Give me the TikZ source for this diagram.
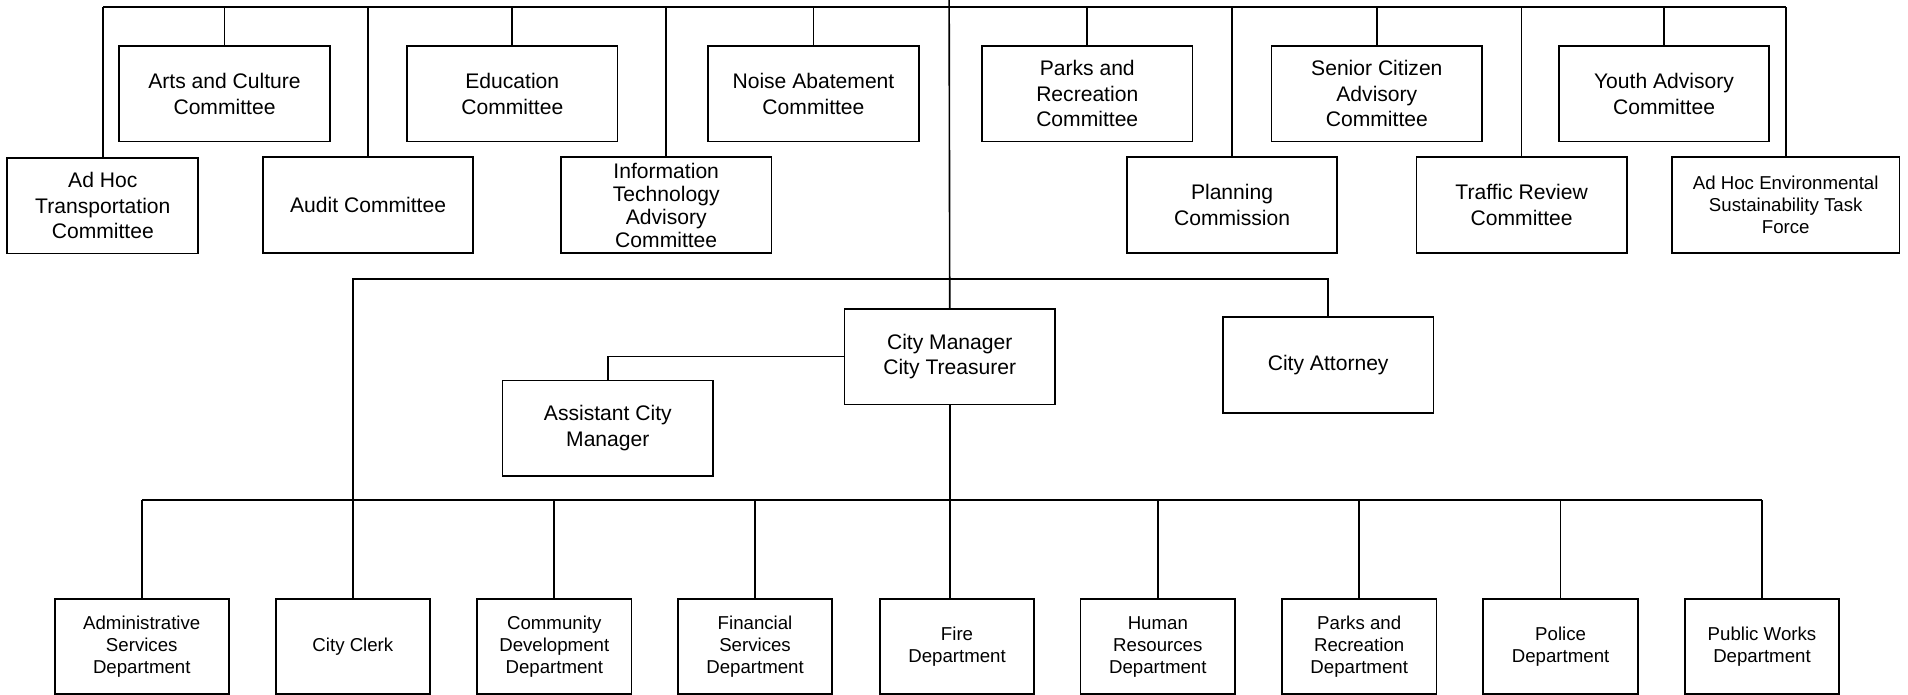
\documentclass[tikz,border=0pt]{standalone}
\usepackage{fontspec}
\setmainfont{Liberation Sans}
\usepackage{tikz}

\begin{document}
\begin{tikzpicture}[x=0.75pt,y=-0.75pt,
    comm/.style={draw,line width=1.1pt,minimum width=129.75pt,minimum height=59pt,inner sep=0pt,align=center,font=\fontsize{13}{15.8}\selectfont},
    dept/.style={draw,line width=1.1pt,minimum width=95.25pt,minimum height=58.5pt,inner sep=0pt,align=center,font=\fontsize{11.5}{13.5}\selectfont},
    bar/.style={line width=1.2pt},
    link/.style={line width=1pt}]
    \useasboundingbox (0,0) rectangle (1568,571);
    \node[comm] (arts) at (184.5,77) {Arts and Culture\\Committee};
    \node[comm] (educ) at (421,77) {Education\\Committee};
    \node[comm] (noise) at (668.5,77) {Noise Abatement\\Committee};
    \node[comm] (parksc) at (893.5,77) {Parks and\\Recreation\\Committee};
    \node[comm] (senior) at (1131.5,77) {Senior Citizen\\Advisory\\Committee};
    \node[comm] (youth) at (1367.5,77) {Youth Advisory\\Committee};
    \node[comm,minimum width=117.75pt] (adhoct) at (84.5,169) {Ad Hoc\\Transportation\\Committee};
    \node[comm] (audit) at (302.5,168.5) {Audit Committee};
    \node[comm,font=\fontsize{13}{14.2}\selectfont] (infotech) at (547.5,168.5) {Information\\Technology\\Advisory\\Committee};
    \node[comm] (planning) at (1012.5,168.5) {Planning\\Commission};
    \node[comm] (traffic) at (1250.5,168.5) {Traffic Review\\Committee};
    \node[comm,minimum width=140.25pt,font=\fontsize{11.5}{13.5}\selectfont] (adhoce) at (1467.5,168.5) {Ad Hoc Environmental\\Sustainability Task\\Force};
    \node[comm] (cm) at (780.5,293) {City Manager\\City Treasurer};
    \node[comm] (attorney) at (1091.5,300) {City Attorney};
    \node[comm] (acm) at (499.5,352) {Assistant City\\Manager};
    \node[dept,minimum width=107.25pt] (admin) at (116.5,531.5) {Administrative\\Services\\Department};
    \node[dept] (clerk) at (290,531.5) {City Clerk};
    \node[dept] (commdev) at (455.5,531.5) {Community\\Development\\Department};
    \node[dept] (finance) at (620.5,531.5) {Financial\\Services\\Department};
    \node[dept] (fire) at (786.5,531.5) {Fire\\Department};
    \node[dept] (hr) at (951.5,531.5) {Human\\Resources\\Department};
    \node[dept] (parksd) at (1117,531.5) {Parks and\\Recreation\\Department};
    \node[dept] (police) at (1282.5,531.5) {Police\\Department};
    \node[dept] (pubworks) at (1448,531.5) {Public Works\\Department};
    \coordinate (topend) at (780,0);
    \coordinate (combar) at (780,6);
    \coordinate (midbar) at (780,229);
    \coordinate (deptbar) at (780,411);
    \draw[bar] (combar -| adhoct.north) -- (combar -| adhoce.north);
    \foreach \c in {adhoct,arts,audit,educ,infotech,noise,parksc,planning,senior,traffic,youth,adhoce}
        \draw[link] (combar -| \c.north) -- (\c.north);
    \draw[link] (topend) -- (cm.north);
    \draw[bar] (clerk.north) -- (clerk.north |- midbar) -| (attorney.north);
    \draw[link] (cm.west) -| (acm.north);
    \draw[bar] (cm.south) -- (cm.south |- fire.north);
    \draw[bar] (deptbar -| admin.north) -- (deptbar -| pubworks.north);
    \foreach \d in {admin,commdev,finance,hr,parksd,police,pubworks}
        \draw[link] (deptbar -| \d.north) -- (\d.north);
\end{tikzpicture}
\end{document}
